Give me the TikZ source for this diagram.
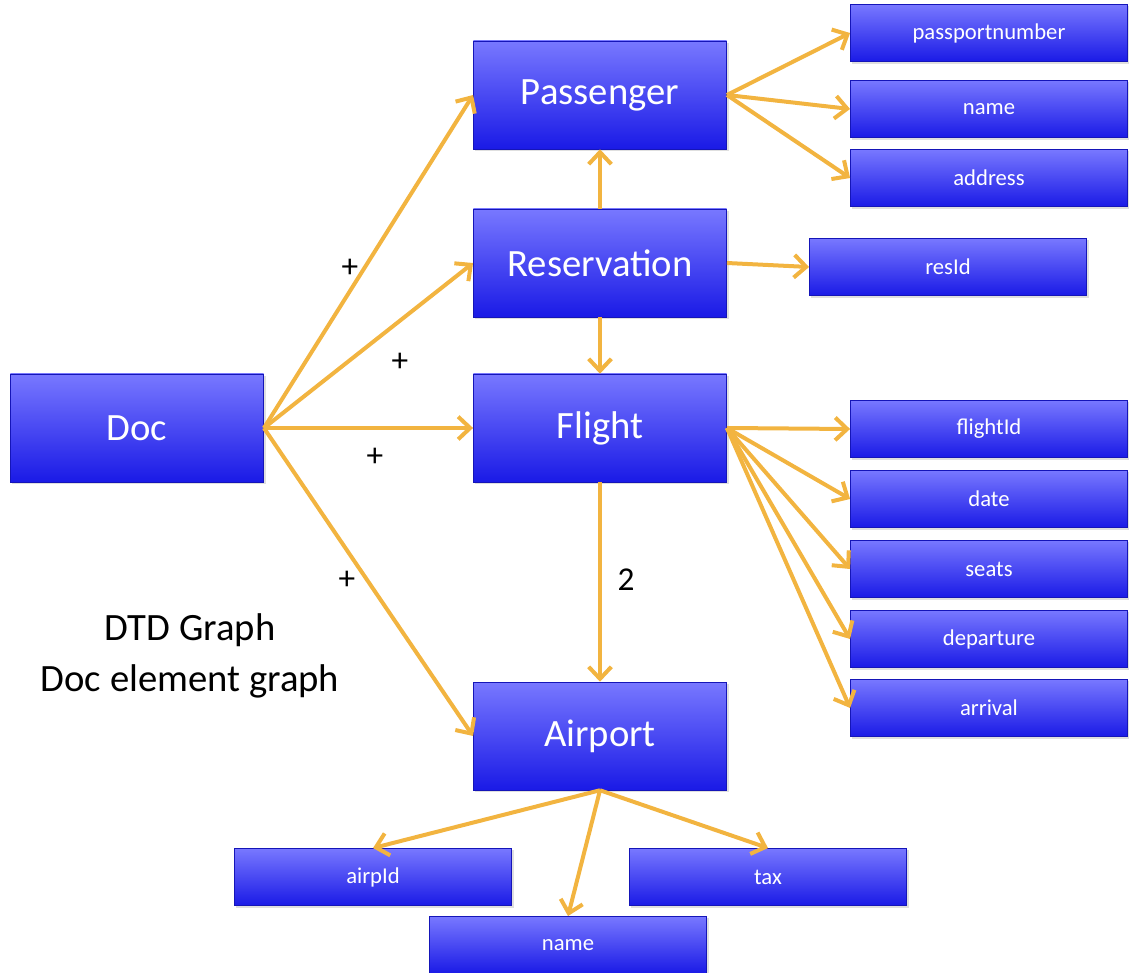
\documentclass[tikz,border=0pt]{standalone}
\usepackage{fontspec}
\setmainfont{Carlito}
\usetikzlibrary{arrows.meta,shadows}
\definecolor{boxtop}{HTML}{7878FF}
\definecolor{boxbot}{HTML}{1A1AE6}
\definecolor{edgecol}{HTML}{F2B440}

\begin{document}
\begin{tikzpicture}[x=0.75pt, y=-0.75pt]
\tikzset{bignoeud/.style={rectangle, inner sep=0pt, minimum width=190pt, minimum height=81pt,
    top color=boxtop, bottom color=boxbot, draw=boxbot!80!black, line width=0.4pt,
    drop shadow={opacity=0.25, shadow xshift=1.5pt, shadow yshift=-1.5pt},
    text=white, font=\fontsize{29}{31}\selectfont},
  petitnoeud/.style={bignoeud, minimum width=208pt, minimum height=43pt, font=\fontsize{17}{19}\selectfont},
  fleche/.style={draw=edgecol, line width=3pt, -{Straight Barb[length=9pt, width=17pt, line width=3pt]}},
  etiq/.style={font=\fontsize{25}{27}\selectfont}}
\useasboundingbox (0,0) rectangle (1129,973);
\node[bignoeud] (Doc) at (137,428) {Doc};
\node[bignoeud] (Pas) at (600,95) {Passenger};
\node[bignoeud] (Res) at (600,263) {Reservation};
\node[bignoeud] (Fli) at (600,428) {Flight};
\node[bignoeud] (Air) at (600,736) {Airport};
\node[petitnoeud] (PNum) at (989,33) {passportnumber};
\node[petitnoeud] (PNam) at (989,109) {name};
\node[petitnoeud] (PAdr) at (989,178) {address};
\node[petitnoeud] (RId) at (948,267) {resId};
\node[petitnoeud] (FId) at (989,429) {flightId};
\node[petitnoeud] (FDat) at (989,499) {date};
\node[petitnoeud] (FSea) at (989,569) {seats};
\node[petitnoeud] (FDep) at (989,639) {departure};
\node[petitnoeud] (FArr) at (989,708) {arrival};
\node[petitnoeud] (AId) at (373,877) {airpId};
\node[petitnoeud] (ANam) at (568,945) {name};
\node[petitnoeud] (ATax) at (768,877) {tax};
\node[etiq] (L1) at (350,268) {+};
\node[etiq] (L2) at (400,362) {+};
\node[etiq] (L3) at (375,457) {+};
\node[etiq] (L4) at (347,580) {+};
\node[etiq] (L5) at (626,580) {2};
\node[align=center, font=\fontsize{29}{38}\selectfont] (Titre) at (190,656) {DTD Graph\\Doc element graph};
\draw[fleche] (Doc.east) -- (Pas.west);
\draw[fleche] (Doc.east) -- (Res.west);
\draw[fleche] (Doc.east) -- (Fli.west);
\draw[fleche] (Doc.east) -- (Air.west);
\draw[fleche] (Res.north) -- (Pas.south);
\draw[fleche] (Res.south) -- (Fli.north);
\draw[fleche] (Fli.south) -- (Air.north);
\draw[fleche] (Pas.east) -- (PNum.west);
\draw[fleche] (Pas.east) -- (PNam.west);
\draw[fleche] (Pas.east) -- (PAdr.west);
\draw[fleche] (Res.east) -- (RId.west);
\draw[fleche] (Fli.east) -- (FId.west);
\draw[fleche] (Fli.east) -- (FDat.west);
\draw[fleche] (Fli.east) -- (FSea.west);
\draw[fleche] (Fli.east) -- (FDep.west);
\draw[fleche] (Fli.east) -- (FArr.west);
\draw[fleche] (Air.south) -- (AId.north);
\draw[fleche] (Air.south) -- (ANam.north);
\draw[fleche] (Air.south) -- (ATax.north);
\end{tikzpicture}
\end{document}
